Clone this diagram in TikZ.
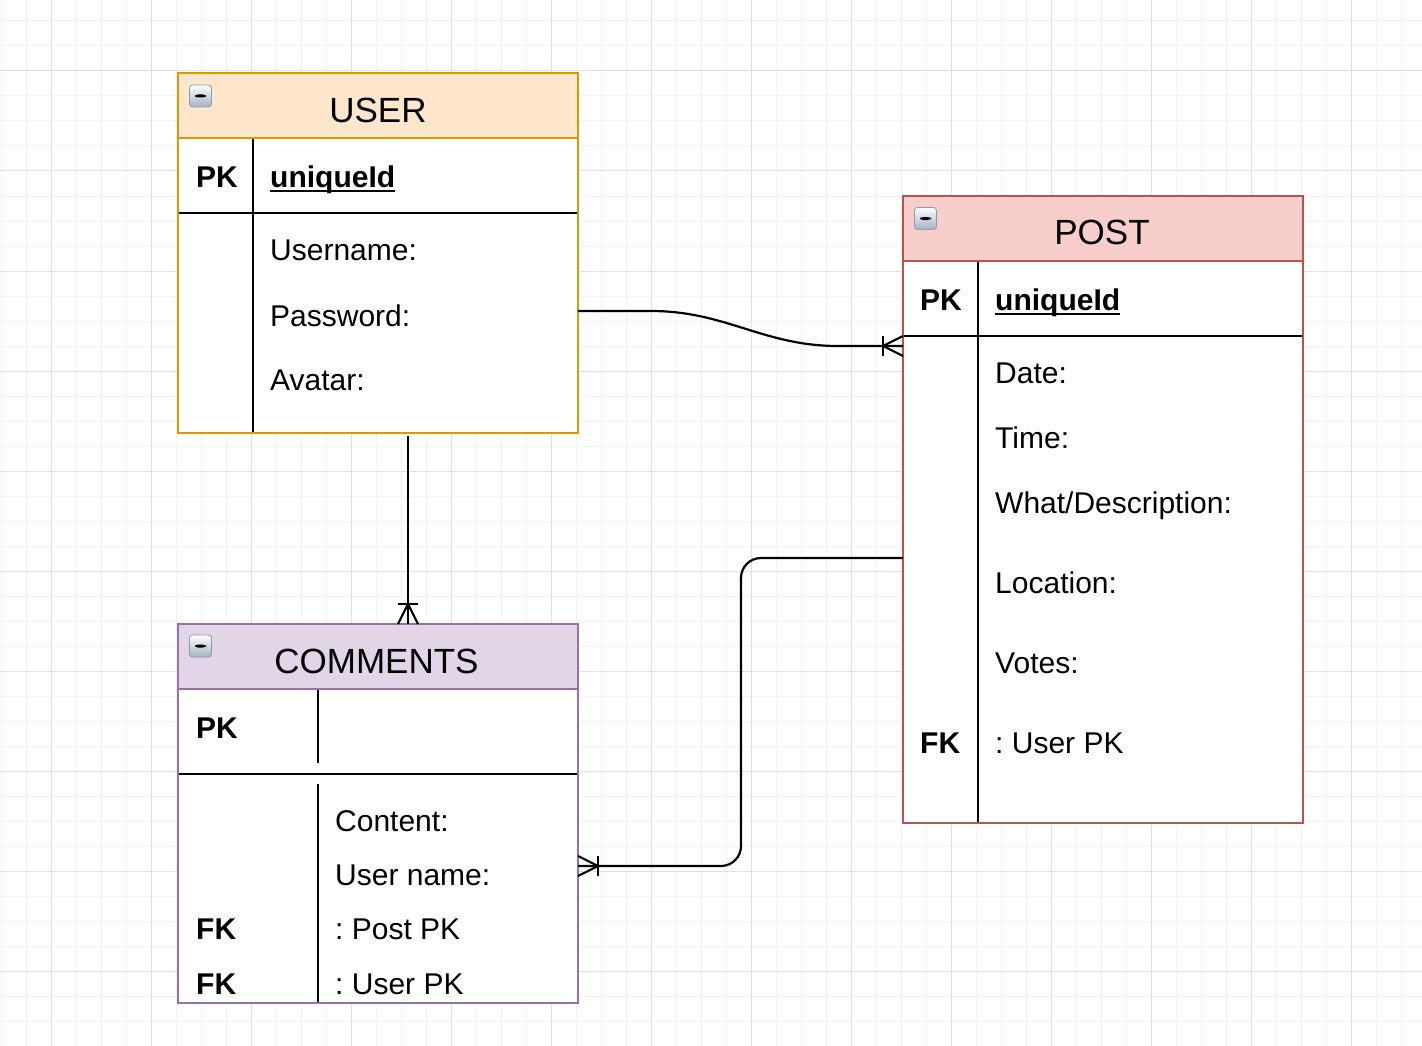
\documentclass[tikz,border=0pt]{standalone}
\usepackage{fontspec}
\setmainfont{Liberation Sans}
\usetikzlibrary{calc}
\frenchspacing
\definecolor{userfill}{HTML}{FFE6CC}
\definecolor{userline}{HTML}{D79B00}
\definecolor{postfill}{HTML}{F8CECC}
\definecolor{postline}{HTML}{B85450}
\definecolor{comfill}{HTML}{E1D5E7}
\definecolor{comline}{HTML}{9673A6}
\definecolor{gridminor}{HTML}{F3F3F3}
\definecolor{gridmajor}{HTML}{E0E0E0}
\definecolor{iconlo}{HTML}{A3B2C2}
\definecolor{iconedge}{HTML}{8B9BAB}
\newcommand\bodyfont{\fontsize{30}{36}\selectfont}
\newcommand\titlefont{\fontsize{35}{42}\selectfont}
\newcommand\myul[1]{\setbox0=\hbox{#1}\rlap{\rule[-5pt]{\wd0}{2.4pt}}\box0}
\tikzset{
  tbl/.style={line width=2pt, fill=white, draw, minimum width=400pt, inner sep=0pt, outer sep=0pt},
  hdr/.style={line width=2pt, draw, minimum width=400pt, minimum height=65pt, inner sep=0pt, outer sep=0pt},
  sep/.style={line width=2.2pt, black},
  conn/.style={line width=2.2pt, black},
  txt/.style={anchor=base west, inner sep=0pt, font=\bodyfont},
  keytxt/.style={anchor=base west, inner sep=0pt, font=\bodyfont\bfseries},
  ttl/.style={anchor=base, inner sep=0pt, font=\titlefont},
  minusicon/.style={draw=iconedge, line width=0.8pt, rounded corners=3pt, minimum size=22pt, inner sep=0pt,
    top color=white, bottom color=iconlo,
    path picture={\fill[black] ($(path picture bounding box.center)+(-5.5,-1.5)$) rectangle ($(path picture bounding box.center)+(5.5,1.5)$);}},
  crow/.pic={\draw[line width=2.2pt] (-20pt,-10pt) -- (-20pt,10pt);
             \draw[line width=2.2pt] (0pt,-10pt) -- (-20pt,0pt) -- (0pt,10pt);}
}
\begin{document}
\begin{tikzpicture}[x=1pt,y=-1pt]
\useasboundingbox (0,0) rectangle (1422,1046);
\fill[white] (0,0) rectangle (1422,1046);
% grid
\foreach \x in {1,26,...,1421} \draw[gridminor, line width=1pt] (\x,0) -- (\x,1046);
\foreach \y in {21,46,...,1046} \draw[gridminor, line width=1pt] (0,\y) -- (1422,\y);
\foreach \x in {51,151,...,1351} \draw[gridmajor, line width=1pt] (\x,0) -- (\x,1046);
\foreach \y in {71,171,...,971} \draw[gridmajor, line width=1pt] (0,\y) -- (1422,\y);

% USER table
\node[tbl, draw=userline, minimum height=360pt] (user) at (378,253) {};
\node[hdr, draw=userline, fill=userfill] (userhead) at (378,105.5) {};
\draw[sep] (253,139) -- (253,432);
\draw[sep] (179,213) -- (577,213);
\node[minusicon] (usericon) at (200.5,96) {};
\node[ttl] (usertitle) at (378,123) {USER};
\node[keytxt] (userpk) at (196,187) {PK};
\node[keytxt] (userid) at (270,187) {\myul{uniqueId}};
\node[txt] (username) at (270,260) {Username:};
\node[txt] (userpass) at (270,326) {Password:};
\node[txt] (useravatar) at (270,390) {Avatar:};

% POST table
\node[tbl, draw=postline, minimum height=627pt] (post) at (1103,509.5) {};
\node[hdr, draw=postline, fill=postfill] (posthead) at (1103,228.5) {};
\draw[sep] (978,262) -- (978,822);
\draw[sep] (904,336) -- (1302,336);
\node[minusicon] (posticon) at (925.5,218.5) {};
\node[ttl] (posttitle) at (1102,244) {POST};
\node[keytxt] (postpk) at (920,310) {PK};
\node[keytxt] (postid) at (995,310) {\myul{uniqueId}};
\node[txt] (postdate) at (995,383) {Date:};
\node[txt] (posttime) at (995,448) {Time:};
\node[txt] (postwhat) at (995,513) {What/Description:};
\node[txt] (postloc) at (995,593) {Location:};
\node[txt] (postvotes) at (995,673) {Votes:};
\node[keytxt] (postfk) at (920,753) {FK};
\node[txt] (postfkname) at (995,753) {: User PK};

% COMMENTS table
\node[tbl, draw=comline, minimum height=379pt] (comments) at (378,813.5) {};
\node[hdr, draw=comline, fill=comfill] (comhead) at (378,656.5) {};
\draw[sep] (318,690) -- (318,763);
\draw[sep] (318,784) -- (318,1002);
\draw[sep] (179,774) -- (577,774);
\node[minusicon] (comicon) at (200.5,646) {};
\node[ttl] (comtitle) at (376.5,673) {COMMENTS};
\node[keytxt] (compk) at (196,738) {PK};
\node[txt] (comcontent) at (335,831) {Content:};
\node[txt] (comuser) at (335,885) {User name:};
\node[keytxt] (comfka) at (196,939) {FK};
\node[txt] (comfkaname) at (335,939) {: Post PK};
\node[keytxt] (comfkb) at (196,994) {FK};
\node[txt] (comfkbname) at (335,994) {: User PK};

% connectors
\coordinate (c1s) at ($(user.east)+(0,58)$);
\coordinate (c1e) at ($(post.west)+(0,-163.5)$);
\draw[conn] (c1s) -- ++(73,0) .. controls +(75,0) and +(-75,0) .. ($(c1e)+(-65,0)$) -- (c1e);
\pic at (c1e) {crow};

\coordinate (c2s) at ($(user.south)+(30,3)$);
\coordinate (c2e) at ($(comments.north)+(30,0)$);
\draw[conn] (c2s) -- (c2e);
\pic[rotate=-90] at (c2e) {crow};

\coordinate (c3s) at ($(post.west)+(0,48.5)$);
\coordinate (c3e) at ($(comments.east)+(0,52.5)$);
\draw[conn, rounded corners=20pt] (c3s) -- ++(-162,0) |- (c3e);
\pic[rotate=180] at (c3e) {crow};
\end{tikzpicture}
\end{document}
